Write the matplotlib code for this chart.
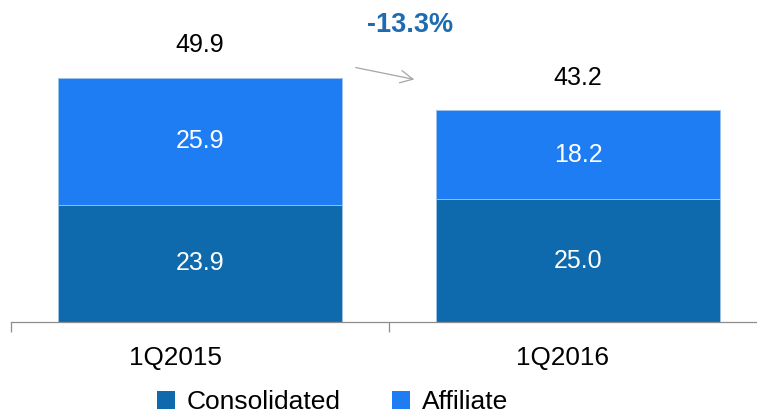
import matplotlib
matplotlib.use("Agg")
import matplotlib.pyplot as plt
from matplotlib.transforms import ScaledTranslation

plt.rcParams['font.family'] = ['Liberation Sans', 'DejaVu Sans']

categories = ["1Q2015", "1Q2016"]
consolidated = [23.9, 25.0]
affiliate = [25.9, 18.2]
totals = [49.9, 43.2]
change_label = "-13.3%"

c_cons = "#0F69AD"
c_aff = "#1F7DF4"

W, H = 757, 417
fig = plt.figure(figsize=(W / 100, H / 100), dpi=100)
ax = fig.add_axes([11 / W, 95 / H, 756 / W, 322 / H])

x = list(range(len(categories)))
b1 = ax.bar(x, consolidated, width=0.75, color=c_cons, edgecolor="#9ec3e6", linewidth=0.6)
b2 = ax.bar(x, affiliate, width=0.75, bottom=consolidated, color=c_aff, edgecolor="#9ec3e6", linewidth=0.6)

FS = 18
for i in x:
    ax.text(i, consolidated[i] / 2, f"{consolidated[i]:.1f}", ha="center", va="center",
            color="white", fontsize=FS)
    ax.text(i, consolidated[i] + affiliate[i] / 2, f"{affiliate[i]:.1f}", ha="center", va="center",
            color="white", fontsize=FS)
    ax.annotate(f"{totals[i]:.1f}", (i, totals[i]), xytext=(0, 23), textcoords="offset points",
                ha="center", va="center", fontsize=FS, color="black")

ax.set_xlim(-0.5, 1.5)
ax.set_ylim(0, 65.6)
for s in ["top", "right", "left"]:
    ax.spines[s].set_visible(False)
ax.spines["bottom"].set_color("#8c8c8c")
ax.spines["bottom"].set_linewidth(0.9)
ax.set_yticks([])
ax.set_xticks(x)
ax.set_xticklabels(categories, fontsize=FS + 0.8)
ax.tick_params(axis="x", which="major", length=0, pad=17)
ax.set_xticks([-0.5, 0.5, 1.5], minor=True)
ax.tick_params(axis="x", which="minor", length=7, color="#8c8c8c", width=0.9)
for lbl, dx in zip(ax.get_xticklabels(), [-24.5, -15.5]):
    lbl.set_transform(lbl.get_transform() + ScaledTranslation(dx / 100, 0, fig.dpi_scale_trans))

# change annotation
fig.text(410 / W, 1 - 25.5 / H, change_label, ha="center", va="center", fontsize=19.5,
         fontweight="bold", color="#1F6BB0")
fig.add_artist(matplotlib.patches.FancyArrowPatch(
    (353 / W, 1 - 67 / H), (417 / W, 1 - 80 / H), transform=fig.transFigure,
    arrowstyle="->,head_length=6,head_width=3", color="#a6a6a6", lw=0.9,
    mutation_scale=1.5))

leg = fig.legend([b1, b2], ["Consolidated", "Affiliate"], loc="center",
                 bbox_to_anchor=(0.439, 1 - 402 / H), ncol=2, frameon=False, fontsize=19,
                 handlelength=0.68, handleheight=0.68, handletextpad=0.45, columnspacing=1.95,
                 borderpad=0, borderaxespad=0)
for h in leg.legend_handles:
    h.set_edgecolor("none")

fig.savefig("out.png", dpi=100)
